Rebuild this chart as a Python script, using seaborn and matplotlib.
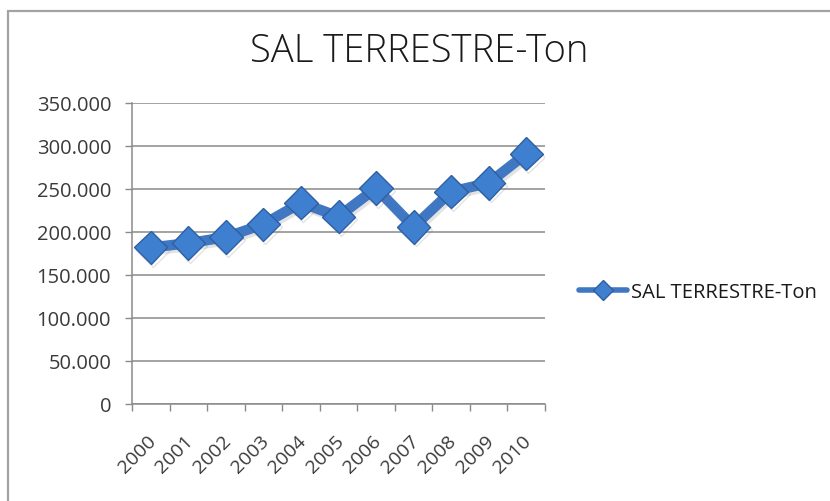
import matplotlib
matplotlib.use("Agg")
import matplotlib.pyplot as plt
import matplotlib.patheffects as pe
import matplotlib.transforms as mtransforms
from matplotlib.lines import Line2D
from matplotlib.patches import Rectangle
from matplotlib.ticker import FuncFormatter, FixedLocator
import seaborn as sns
import pandas as pd

# Annual production of land salt (tons)
years = ["2000", "2001", "2002", "2003", "2004", "2005",
         "2006", "2007", "2008", "2009", "2010"]
tons = [182000, 187000, 194000, 209000, 234000, 218000,
        251000, 206000, 247000, 257000, 291000]
series_name = "SAL TERRESTRE-Ton"
y_ticks = [0, 50000, 100000, 150000, 200000, 250000, 300000, 350000]

df = pd.DataFrame({"pos": range(len(years)), "year": years, "value": tons})

sns.set_theme(style="white")
plt.rcParams["font.family"] = ["Open Sans", "DejaVu Sans"]

W, H = 830, 502
fig = plt.figure(figsize=(W / 100, H / 100), dpi=100)
fig.patch.set_facecolor("white")

# chart frame
fig.add_artist(Rectangle((8 / W, -0.2), 1.2, 1 - 12 / H + 0.2,
                         transform=fig.transFigure, fill=False,
                         edgecolor="#a3a3a3", linewidth=1.6))

ax = fig.add_axes([132 / W, 1 - 405 / H, (545 - 132) / W, (405 - 104) / H])

line_color = "#4077c2"
marker_face = "#3f7fd0"
marker_edge = "#2d5fa3"

sns.lineplot(data=df, x="pos", y="value", ax=ax, color=line_color,
             linewidth=7.5, marker="D", markersize=17,
             markerfacecolor=marker_face, markeredgecolor=marker_edge,
             markeredgewidth=1.0, legend=False, zorder=3,
             path_effects=[pe.SimpleLineShadow(offset=(1.5, -2), shadow_color="#777777", alpha=0.2),
                           pe.Normal()])

ax.set_xlim(-0.5, len(years) - 0.5)
ax.set_ylim(0, 350000)

# gridlines
ax.set_yticks(y_ticks)
ax.yaxis.grid(True, color="#8a8a8a", linewidth=1.1)
ax.xaxis.grid(False)
ax.set_axisbelow(True)
ax.yaxis.set_major_formatter(FuncFormatter(lambda v, _: f"{v:,.0f}".replace(",", ".")))

# category labels in the middle, tick marks on the boundaries
ax.set_xticks(range(len(years)))
ax.set_xticklabels(years, rotation=45, ha="right", va="top", rotation_mode="anchor")
ax.xaxis.set_minor_locator(FixedLocator([i - 0.5 for i in range(len(years) + 1)]))
ax.tick_params(axis="x", which="major", length=0, pad=20, labelsize=14, labelcolor="#3a3a3a")
ax.tick_params(axis="x", which="minor", length=5, width=1, color="#8a8a8a", direction="out", bottom=True)
ax.tick_params(axis="y", which="major", length=5, width=1, color="#8a8a8a", direction="out",
               left=True, pad=10, labelsize=14.5, labelcolor="#3a3a3a")
shift = mtransforms.ScaledTranslation(-4 / 100, 0, fig.dpi_scale_trans)
for lbl in ax.get_xticklabels():
    lbl.set_transform(lbl.get_transform() + shift)

ax.set_xlabel("")
ax.set_ylabel("")
for side in ("top", "right"):
    ax.spines[side].set_visible(False)
for side in ("left", "bottom"):
    ax.spines[side].set_color("#8a8a8a")
    ax.spines[side].set_linewidth(1.1)

fig.text(419 / W, 1 - 52 / H, series_name, ha="center", va="center",
         fontsize=27.5, color="#1a1a1a", fontweight="light")

handle = Line2D([], [], color=line_color, linewidth=4, marker="D", markersize=10,
                markerfacecolor=marker_face, markeredgecolor=marker_edge)
fig.legend([handle], [series_name], loc="center left",
           bbox_to_anchor=(561 / W, 1 - 293 / H), frameon=False,
           fontsize=14.5, handlelength=2.4, handletextpad=0.2, labelcolor="#1a1a1a")

fig.savefig("out.png", dpi=100, facecolor="white")
